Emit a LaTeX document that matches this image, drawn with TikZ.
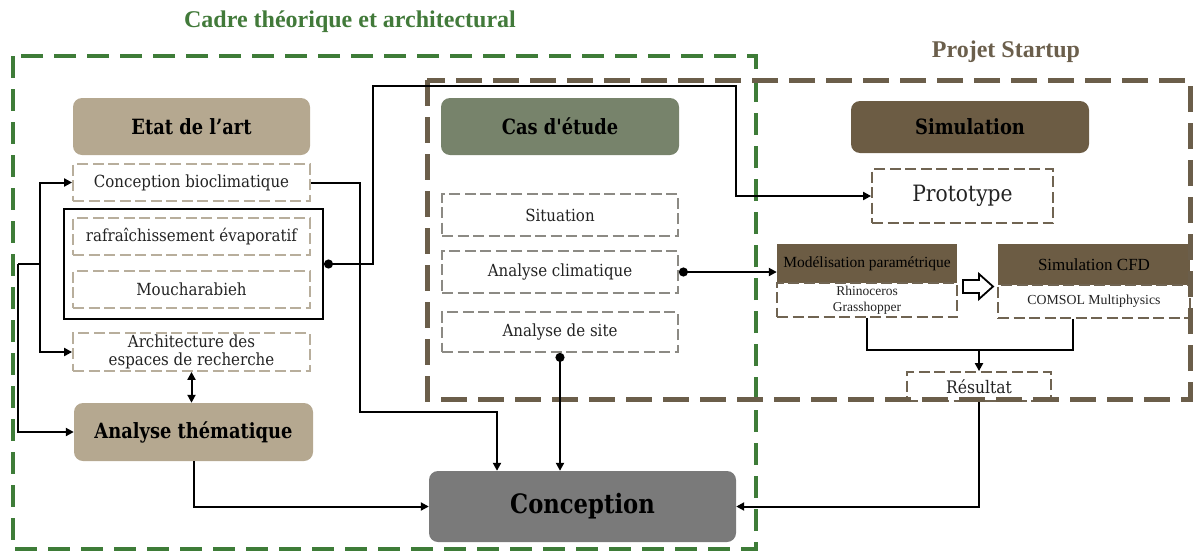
\documentclass[tikz,border=0pt]{standalone}
\usepackage{fontspec}
\setmainfont{DejaVu Serif}[FakeStretch=0.9]
\newfontfamily\headfont{DejaVu Serif}[FakeStretch=0.85]
\newfontfamily\timesfont{Liberation Serif}
\usetikzlibrary{arrows.meta}

\definecolor{frameGreen}{RGB}{62,124,56}
\definecolor{frameBrown}{RGB}{107,94,74}
\definecolor{etatFill}{RGB}{181,168,144}
\definecolor{casFill}{RGB}{119,131,107}
\definecolor{simFill}{RGB}{108,92,68}
\definecolor{concFill}{RGB}{122,122,122}
\definecolor{tanDash}{RGB}{184,174,156}
\definecolor{grayDash}{RGB}{140,138,132}
\definecolor{brownDash}{RGB}{112,100,82}
\definecolor{titleGreen}{RGB}{66,122,58}
\definecolor{titleBrown}{RGB}{107,95,76}
\definecolor{ink}{RGB}{35,35,35}

\tikzset{
  framegreen/.style={draw=frameGreen, line width=4.5pt, dash pattern=on 22pt off 11pt},
  framebrown/.style={draw=frameBrown, line width=5pt, dash pattern=on 26pt off 11pt},
  headbox/.style={rounded corners=9pt, inner sep=0pt, text=black,
    font=\headfont\bfseries\fontsize{21}{24}\selectfont},
  dashbox/.style={line width=1.8pt, dash pattern=on 11pt off 4.5pt, inner sep=0pt,
    align=center, text=ink, font=\fontsize{16.7}{19}\selectfont},
  tanbox/.style={dashbox, draw=tanDash},
  graybox/.style={dashbox, draw=grayDash},
  brownbox/.style={dashbox, draw=brownDash},
  toolhead/.style={fill=simFill, inner sep=0pt, text=black,
    font=\timesfont\fontsize{15.5}{18}\selectfont},
  conn/.style={line width=2pt, draw=black},
  arr/.style={conn, -{Triangle[length=8pt,width=8pt]}},
  dotarr/.style={conn, {Circle[length=9pt]}-{Triangle[length=8pt,width=8pt]}}
}

\begin{document}
\begin{tikzpicture}[x=1pt,y=-1pt]
\useasboundingbox (0,0) rectangle (1193,552);

% frame titles
\node[font=\timesfont\bfseries\fontsize{24}{28}\selectfont, text=titleGreen] (cadre) at (350,22) {Cadre théorique et architectural};
\node[font=\timesfont\bfseries\fontsize{24}{28}\selectfont, text=titleBrown] (startup) at (1006,52) {Projet Startup};

% outer dashed frame of the theoretical part
\draw[framegreen] (13,56) rectangle (756,549);

% left column: state of the art
\node[headbox, fill=etatFill, minimum width=237pt, minimum height=57pt] (etat) at (191.5,126.5) {Etat de l’art};
\node[tanbox, minimum width=237pt, minimum height=37pt] (biocl) at (191.5,182.5) {Conception bioclimatique};
\node[draw=black, line width=2pt, minimum width=259pt, minimum height=110pt, inner sep=0pt] (grp) at (193.5,264) {};
\node[tanbox, minimum width=237pt, minimum height=37pt] (rafr) at (191.5,236.5) {rafraîchissement évaporatif};
\node[tanbox, minimum width=237pt, minimum height=37pt] (mouch) at (191.5,289.5) {Moucharabieh};
\node[tanbox, minimum width=237pt, minimum height=38pt, font=\fontsize{16.7}{18}\selectfont] (archi) at (191.5,352) {Architecture des\\espaces de recherche};
\node[headbox, fill=etatFill, minimum width=239pt, minimum height=58pt] (them) at (193.5,432) {Analyse thématique};

% middle column: case study
\node[headbox, fill=casFill, minimum width=238pt, minimum height=57pt] (cas) at (560,126.5) {Cas d'étude};
\node[graybox, minimum width=236pt, minimum height=42pt] (situ) at (560,215) {Situation};
\node[graybox, minimum width=236pt, minimum height=42pt] (clim) at (560,272) {Analyse climatique};
\node[graybox, minimum width=236pt, minimum height=40pt] (site) at (560,332) {Analyse de site};

% design box
\node[headbox, fill=concFill, minimum width=307pt, minimum height=71pt,
  font=\headfont\bfseries\fontsize{26.7}{30}\selectfont] (conc) at (582.5,506.5) {Conception};

% right column: simulation
\node[headbox, fill=simFill, minimum width=238pt, minimum height=52pt] (simu) at (970,127) {Simulation};
\node[brownbox, minimum width=181pt, minimum height=54pt, font=\fontsize{22.5}{26}\selectfont] (proto) at (962.5,196) {Prototype};
\node[toolhead, minimum width=180pt, minimum height=39pt] (modh) at (867,263.5) {Modélisation paramétrique};
\node[brownbox, minimum width=180pt, minimum height=34pt, font=\timesfont\fontsize{13.5}{16}\selectfont] (modb) at (867,300) {Rhinoceros\\Grasshopper};
\node[toolhead, minimum width=192pt, minimum height=41pt, font=\timesfont\fontsize{17}{20}\selectfont] (cfdh) at (1094,264.5) {Simulation CFD};
\node[brownbox, minimum width=192pt, minimum height=33pt, font=\timesfont\fontsize{13.8}{16}\selectfont] (cfdb) at (1094,301.5) {COMSOL Multiphysics};
\node[brownbox, minimum width=144pt, minimum height=29pt, font=\fontsize{17.3}{19}\selectfont] (res) at (979,386.5) {Résultat};

% hollow arrow between the two tools
\draw[line width=1.8pt, fill=white] (963,280) -- (979,280) -- (979,274) -- (993,286.5)
  -- (979,299) -- (979,293) -- (963,293) -- cycle;

% outer dashed frame of the startup part
\draw[framebrown] (427,80) rectangle (1190,399);

% connectors on the left
\coordinate (lb) at (40,264);
\coordinate (lc) at (18,264);
\draw[conn] (lc) -- (lb);
\draw[arr] (lb) |- (biocl.west);
\draw[arr] (lb) |- (archi.west);
\draw[arr] (lc) |- (them.west);
\draw[conn, {Triangle[length=8pt,width=8pt]}-{Triangle[length=8pt,width=8pt]}] (archi.south) -- (archi.south |- them.north);

% connectors towards the design box
\draw[arr] (biocl.east) -- (360,182.5) -- (360,412) -| ([xshift=-85.5pt]conc.north);
\draw[dotarr] (site.south) -- (site.south |- conc.north);
\draw[arr] (them.south) |- (conc.west);
\draw[arr] (res.south) |- (conc.east);

% connectors towards the simulation side
\draw[dotarr] (grp.east) -- (373,264) -- (373,86) -- (736,86) |- (proto.west);
\draw[dotarr] (clim.east) -- (clim.east -| modh.west);

% tools to result
\coordinate (join) at (979,350);
\coordinate (cfdfoot) at ([xshift=-21pt]cfdb.south);
\draw[conn] (modb.south) |- (join) -| (cfdfoot);
\draw[arr] (join) -- (res.north);
\end{tikzpicture}
\end{document}
